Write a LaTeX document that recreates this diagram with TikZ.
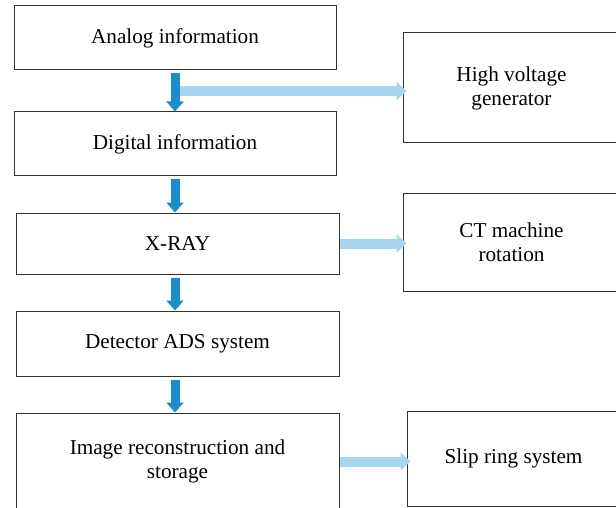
\documentclass[tikz,border=0pt]{standalone}
\usepackage{fontspec}
\setmainfont{Liberation Serif}
\usetikzlibrary{arrows.meta}
\definecolor{flowblue}{RGB}{27,140,204}
\definecolor{sideblue}{RGB}{168,214,240}

\begin{document}
\begin{tikzpicture}[x=0.5pt, y=-0.5pt, line width=0.5pt,
  box/.style={draw=black!80, align=center, inner sep=0pt, font=\fontsize{10.6}{12}\selectfont},
  down/.style={flowblue, line width=4.5pt, shorten <=1.5pt, -{Triangle[width=8.5pt,length=5pt]}},
  side/.style={sideblue, line width=5pt, shorten >=-2pt, -{Triangle[width=9pt,length=5pt]}}]
  \clip (0,0) rectangle (616,508);
  % main chain
  \node[box, minimum width=161pt, minimum height=32pt] (analog) at (175,38) {Analog information};
  \node[box, minimum width=161pt, minimum height=32pt] (digital) at (175,144) {Digital information};
  \node[box, minimum width=161.5pt, minimum height=30.5pt] (xray) at (177.5,243.5) {X-RAY};
  \node[box, minimum width=161.5pt, minimum height=32.5pt] (detector) at (177.5,343.5) {Detector ADS system};
  \node[box, minimum width=161.5pt, minimum height=48.5pt] (recon) at (177.5,461.5) {Image reconstruction and\\storage};
  % side boxes
  \node[box, minimum width=108.5pt, minimum height=55pt] (hv) at (511.5,88) {High voltage\\generator};
  \node[box, minimum width=108.5pt, minimum height=49pt] (ct) at (511.5,242) {CT machine\\rotation};
  \node[box, minimum width=106.5pt, minimum height=47.5pt] (slip) at (513.5,458.5) {Slip ring system};
  % arrows
  \coordinate (tap) at (178,91);
  \draw[side] (tap) -- (tap -| hv.west);
  \draw[side] (xray.east) -- (xray.east -| ct.west);
  \draw[side] (recon.east) -- (recon.east -| slip.west);
  \draw[down] (analog.south) -- (digital.north);
  \draw[down] (digital.south) -- (xray.north -| digital.south);
  \draw[down] (xray.south -| digital.south) -- (detector.north -| digital.south);
  \draw[down] (detector.south -| digital.south) -- (recon.north -| digital.south);
\end{tikzpicture}
\end{document}
